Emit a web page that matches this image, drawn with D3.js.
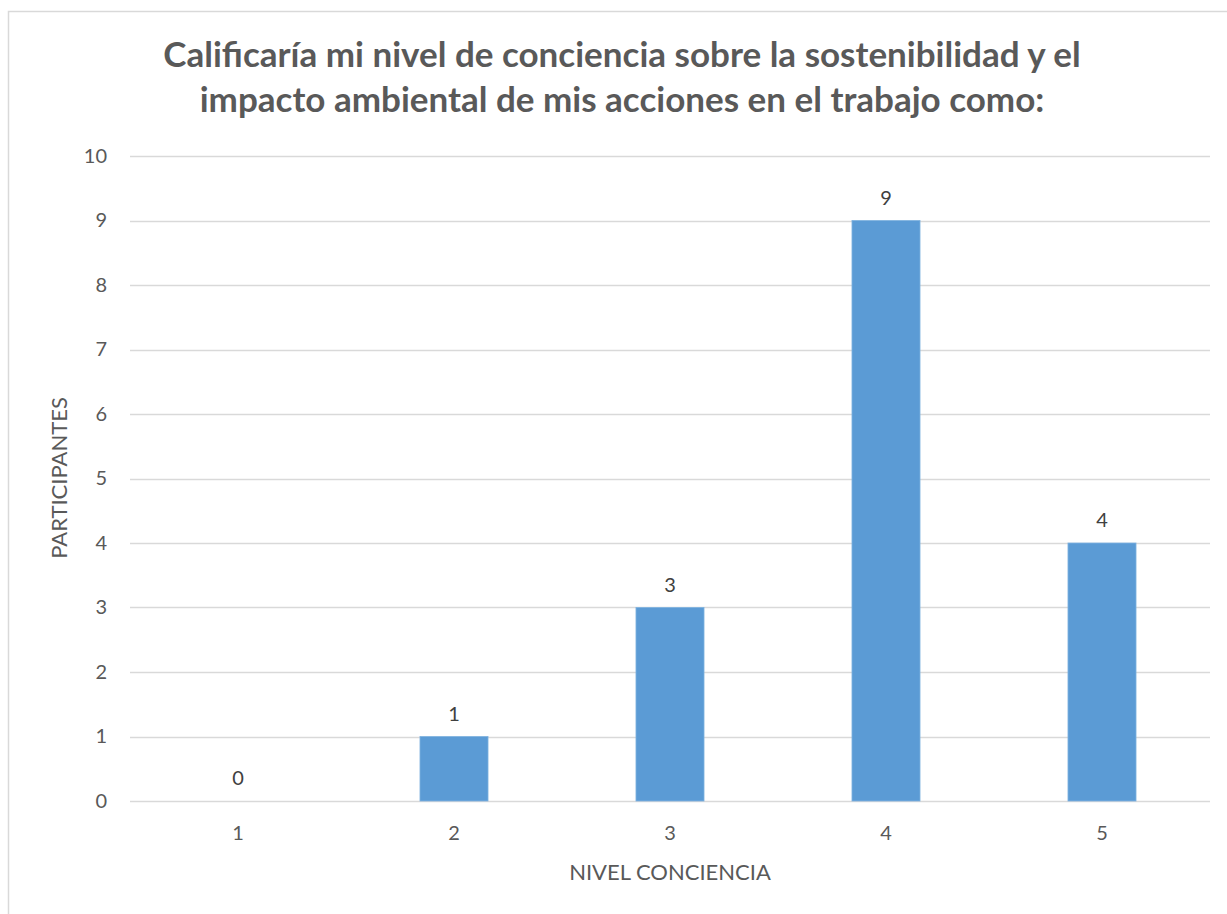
<!DOCTYPE html>
<html>
<head>
<meta charset="utf-8">
<script src="https://cdn.jsdelivr.net/npm/d3@7"></script>
<style>
  html, body { margin: 0; padding: 0; background: #fff; }
  svg { display: block; }
  text { font-family: Lato, "Open Sans", sans-serif; }
</style>
</head>
<body>
<svg id="chart" width="1227" height="914"></svg>
<script>
// Survey results: self-rated awareness level vs. number of participants
const titleLines = [
  "Calificaría mi nivel de conciencia sobre la sostenibilidad y el",
  "impacto ambiental de mis acciones en el trabajo como:"
];
const levels = ["1", "2", "3", "4", "5"];
const participants = [0, 1, 3, 9, 4];
const yTicks = [0, 1, 2, 3, 4, 5, 6, 7, 8, 9, 10];
const xTitle = "NIVEL CONCIENCIA";
const yTitle = "PARTICIPANTES";

const svg = d3.select("#chart");
const W = 1227, H = 914;
const plot = { left: 130, right: 1210, top: 156, bottom: 801 };
const labelSize = 20;

// chart frame
svg.append("rect")
  .attr("x", 8.5).attr("y", 11.5)
  .attr("width", W + 20).attr("height", H + 20)
  .attr("fill", "#fff").attr("stroke", "#d9d9d9").attr("stroke-width", 1.5);

const x = d3.scaleBand().domain(levels).range([plot.left, plot.right]).paddingInner(0.685).paddingOuter(0.3425);
const y = d3.scaleLinear().domain([0, 10]).range([plot.bottom, plot.top]);

// gridlines
svg.append("g")
  .selectAll("line").data(yTicks).join("line")
  .attr("x1", plot.left).attr("x2", plot.right)
  .attr("y1", d => Math.round(y(d)) + 0.5).attr("y2", d => Math.round(y(d)) + 0.5)
  .attr("stroke", "#d9d9d9").attr("stroke-width", 1.5);

// y axis labels
const yAxis = d3.axisLeft(y).tickValues(yTicks).tickSize(0).tickPadding(0);
const gy = svg.append("g").attr("transform", "translate(107,0)").call(yAxis);
gy.select(".domain").remove();
gy.selectAll("text")
  .attr("fill", "#595959").style("font-size", labelSize + "px")
  .style("font-family", "Lato, 'Open Sans', sans-serif");

// x axis labels
const xAxis = d3.axisBottom(x).tickSize(0).tickPadding(0);
const gx = svg.append("g").attr("transform", `translate(0,${840 - 0.71 * labelSize})`).call(xAxis);
gx.select(".domain").remove();
gx.selectAll("text")
  .attr("fill", "#595959").style("font-size", labelSize + "px")
  .style("font-family", "Lato, 'Open Sans', sans-serif");

// bars
svg.append("g")
  .selectAll("rect").data(levels).join("rect")
  .attr("x", d => x(d))
  .attr("width", x.bandwidth())
  .attr("y", (d, i) => y(participants[i]))
  .attr("height", (d, i) => y(0) - y(participants[i]))
  .attr("fill", "#5b9bd5")
  .attr("stroke", "#7fb2e0").attr("stroke-width", 0.8);

// data labels
svg.append("g")
  .selectAll("text").data(levels).join("text")
  .attr("x", d => x(d) + x.bandwidth() / 2)
  .attr("y", (d, i) => y(participants[i]) - 16)
  .attr("text-anchor", "middle")
  .attr("fill", "#404040")
  .style("font-size", labelSize + "px")
  .text((d, i) => participants[i]);

// title
svg.append("g")
  .selectAll("text").data(titleLines).join("text")
  .attr("x", 622)
  .attr("y", (d, i) => 67 + i * 45)
  .attr("text-anchor", "middle")
  .attr("fill", "#595959")
  .style("font-size", "35px").style("font-weight", "bold")
  .text(d => d);

// axis titles
svg.append("text")
  .attr("x", (plot.left + plot.right) / 2).attr("y", 880)
  .attr("text-anchor", "middle")
  .attr("fill", "#595959").style("font-size", "22px")
  .text(xTitle);

svg.append("text")
  .attr("transform", "translate(67,478) rotate(-90)")
  .attr("text-anchor", "middle")
  .attr("fill", "#595959").style("font-size", "22px")
  .text(yTitle);
</script>
</body>
</html>
